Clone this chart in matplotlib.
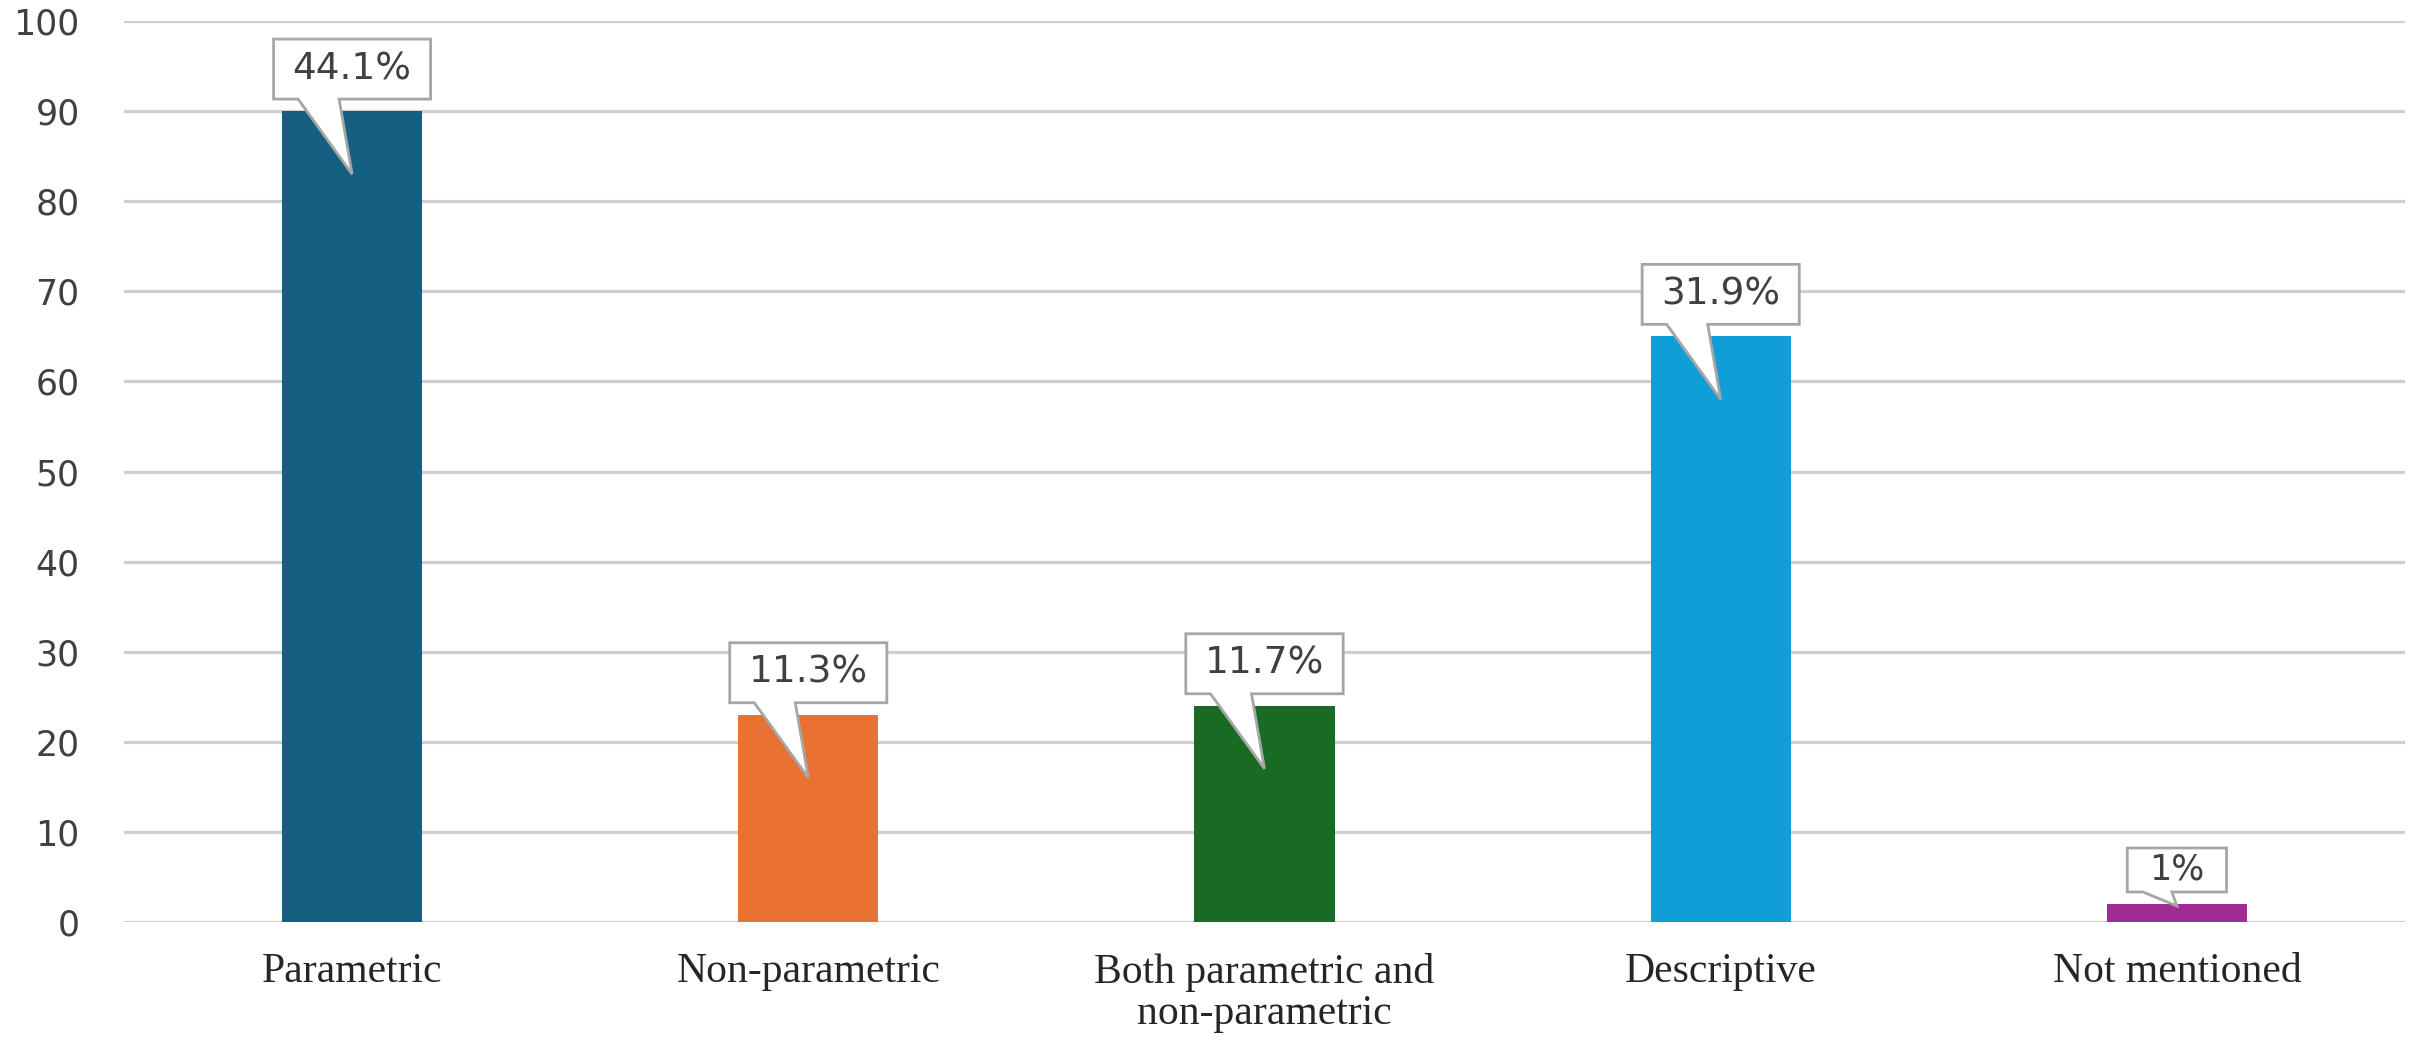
import numpy as np
import matplotlib
matplotlib.use("Agg")
import matplotlib.pyplot as plt
import matplotlib.transforms as mtransforms
from matplotlib.patches import Polygon

# data
categories = ["Parametric", "Non-parametric", "Both parametric and\nnon-parametric",
              "Descriptive", "Not mentioned"]
counts = [90, 23, 24, 65, 2]
pct_labels = ["44.1%", "11.3%", "11.7%", "31.9%", "1%"]
colors = ["#156082", "#E97132", "#196B24", "#0F9ED5", "#A02B93"]

DPI = 100
fig = plt.figure(figsize=(24.11, 10.47), dpi=DPI)
ax = fig.add_axes([124 / 2411, 125 / 1047, 2281 / 2411, 901 / 1047])

x = np.arange(len(categories))
ax.bar(x, counts, width=0.307, color=colors, zorder=2)

ax.set_xlim(-0.5, len(categories) - 0.5)
ax.set_ylim(0, 100)
ax.set_yticks(np.arange(0, 101, 10))
ax.yaxis.grid(True, color="#cfcfcf", linewidth=2.3, zorder=0)
ax.set_axisbelow(True)
for s in ax.spines.values():
    s.set_visible(False)
ax.tick_params(axis="y", length=0, pad=32, labelsize=25, labelcolor="#404040")
ax.tick_params(axis="x", length=0, pad=22)
ax.set_xticks(x)
ax.set_xticklabels(categories, fontsize=30, family="Liberation Serif",
                   color="#262626", linespacing=1.1)

# callout labels (pixel offsets from the top of each bar)
fig.canvas.draw()
renderer = fig.canvas.get_renderer()
for xi, val, lab in zip(x, counts, pct_labels):
    small = val < 10
    gap = 12
    h = 44 if small else 60
    padx = 22 if small else 19
    fs = 25 if small else 27
    # anchor at the bar top, offsets in pixels
    trans = (mtransforms.Affine2D().scale(1.0 / DPI) + fig.dpi_scale_trans
             + mtransforms.ScaledTranslation(xi, val, ax.transData))
    t = ax.text(0, gap + h / 2, lab, transform=trans, ha="center", va="center",
                fontsize=fs, color="#404040", zorder=5)
    tw = t.get_window_extent(renderer).width
    w = tw + 2 * padx
    if small:
        tl, tr, tip = -34, -5, -2
    else:
        tl, tr, tip = -54, -13, -63
    verts = [(-w / 2, gap), (tl, gap), (0, tip), (tr, gap), (w / 2, gap),
             (w / 2, gap + h), (-w / 2, gap + h)]
    poly = Polygon(verts, closed=True, transform=trans, facecolor="white",
                   edgecolor="#a6a6a6", linewidth=2.0, zorder=4, clip_on=False)
    ax.add_patch(poly)

fig.savefig("out.png", dpi=DPI, facecolor="white")
